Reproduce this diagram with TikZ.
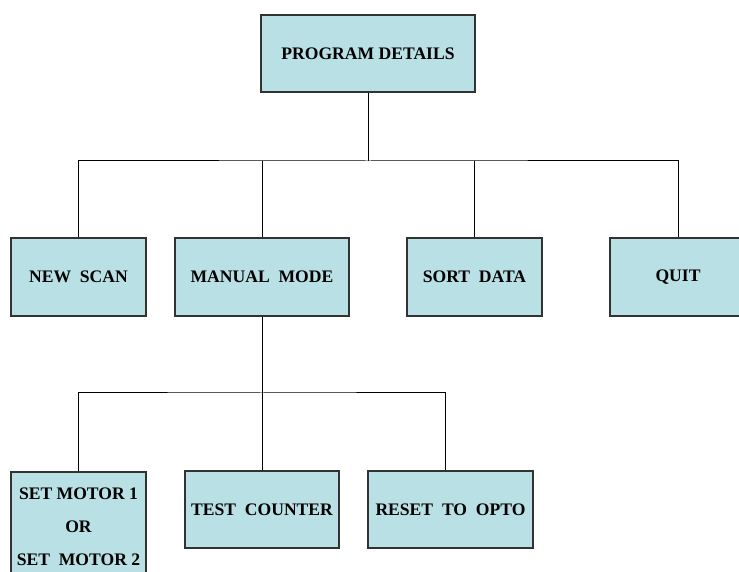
\documentclass[tikz,border=0pt]{standalone}
\usepackage{fontspec}
\setmainfont{Liberation Serif}
\definecolor{boxfill}{RGB}{185,224,228}
\definecolor{boxline}{RGB}{50,50,50}
\tikzset{
  box/.style={draw=boxline, line width=1.3pt, fill=boxfill, rectangle, inner sep=0pt,
    align=center, font=\bfseries\fontsize{17.6}{33}\selectfont},
  link/.style={draw=black, line width=1pt}
}
\begin{document}
\begin{tikzpicture}[x=1pt,y=1pt]
\useasboundingbox (0,0) rectangle (739,572);
\node[box, minimum width=214pt, minimum height=77pt] (pd) at (368,518.5) {PROGRAM DETAILS};
\node[box, minimum width=135pt, minimum height=78pt] (ns) at (78.5,295) {NEW\ \ SCAN};
\node[box, minimum width=174pt, minimum height=78pt] (mm) at (262,295) {MANUAL\ \ MODE};
\node[box, minimum width=135pt, minimum height=78pt] (sd) at (474.5,295) {SORT\ \ DATA};
\node[box, minimum width=136pt, minimum height=78pt] (qt) at (678,295) {QUIT};
\node[box, minimum width=135pt, minimum height=110pt] (sm) at (78.5,45) {SET MOTOR 1\\OR\\SET\ \ MOTOR 2};
\node[box, minimum width=154pt, minimum height=77pt] (tc) at (262,62.5) {TEST\ \ COUNTER};
\node[box, minimum width=165pt, minimum height=77pt] (rs) at (450.5,62.5) {RESET\ \ TO\ \ OPTO};
\coordinate (bus1) at (368,411);
\coordinate (bus2) at (262,179);
\draw[link] (pd.south) -- (bus1);
\draw[link] (ns.north) |- (bus1) -| (qt.north);
\draw[link] (mm.north) -- (mm.north |- bus1);
\draw[link] (sd.north) -- (sd.north |- bus1);
\draw[link] (mm.south) -- (bus2);
\draw[link] (sm.north) |- (bus2) -| ([xshift=-5.5pt]rs.north);
\draw[link] (tc.north) -- (tc.north |- bus2);
\end{tikzpicture}
\end{document}
